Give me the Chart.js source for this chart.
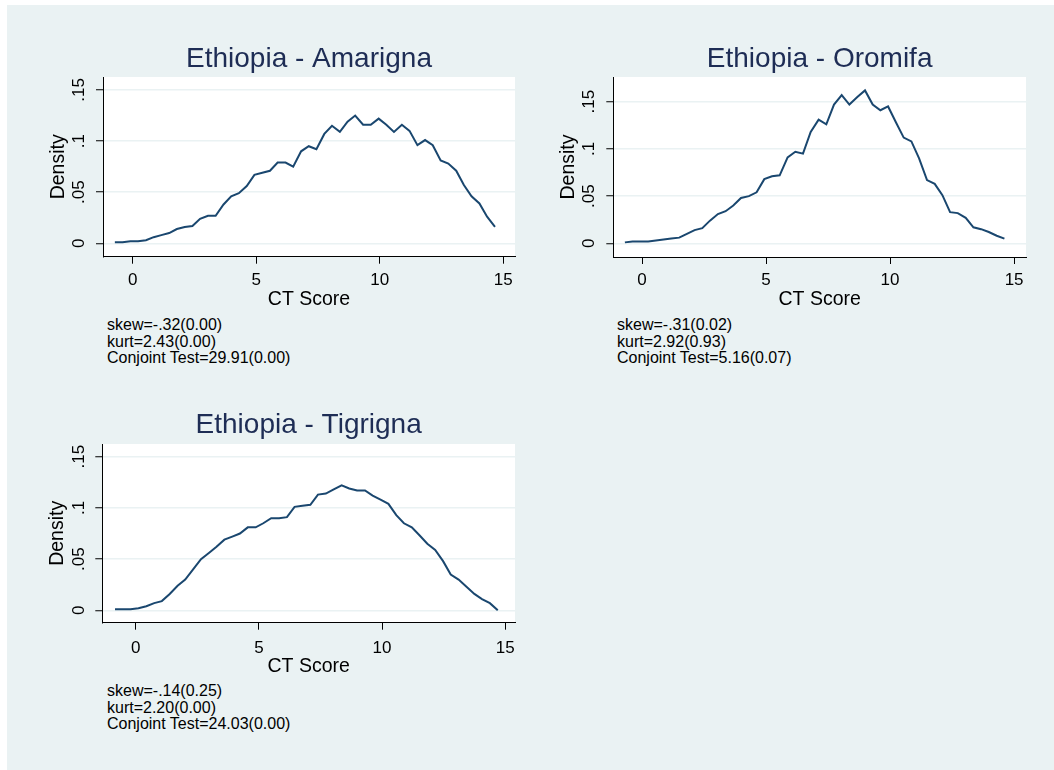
<!DOCTYPE html>
<html>
<head>
<meta charset="utf-8">
<script src="https://cdn.jsdelivr.net/npm/chart.js@4.4.1/dist/chart.umd.min.js"></script>
<style>
  html, body { margin: 0; padding: 0; background: #fff; }
  body { width: 1054px; height: 770px; position: relative; overflow: hidden; font-family: "Liberation Sans", Arial, sans-serif; }
  #bg { position: absolute; left: 7px; top: 5px; right: 0; bottom: 0; background: #eaf2f3; }
  canvas { position: absolute; }
  .note { position: absolute; font-size: 16px; line-height: 16.7px; color: #000; white-space: pre; }
</style>
</head>
<body>
<div id="bg"></div>
<canvas id="amarigna" width="485" height="281" style="left:40px;top:30px"></canvas>
<canvas id="oromifa" width="490" height="281" style="left:550px;top:30px"></canvas>
<canvas id="tigrigna" width="485" height="282" style="left:40px;top:396px"></canvas>
<div class="note" id="noteAmarigna" style="left:107px;top:317px"></div>
<div class="note" id="noteOromifa" style="left:617px;top:317px"></div>
<div class="note" id="noteTigrigna" style="left:107px;top:683px"></div>
<script>
var FONT = '"Liberation Sans", Arial, sans-serif';

/* truc va nhan */
var xTicks = [0, 5, 10, 15];
var yTicks = [0, 0.05, 0.1, 0.15];
var yTickLabels = ["0", ".05", ".1", ".15"];
var xTitle = "CT Score";
var yTitle = "Density";

/* Amarigna */
var scoreAmarigna = [-0.72, -0.41, -0.09, 0.22, 0.54, 0.85, 1.16, 1.48, 1.79, 2.11,
  2.42, 2.73, 3.05, 3.36, 3.68, 3.99, 4.30, 4.62, 4.93, 5.25,
  5.56, 5.87, 6.19, 6.50, 6.82, 7.13, 7.44, 7.76, 8.07, 8.39,
  8.70, 9.01, 9.33, 9.64, 9.96, 10.27, 10.58, 10.90, 11.21, 11.53,
  11.84, 12.15, 12.47, 12.78, 13.10, 13.41, 13.72, 14.04, 14.35, 14.67];
var densAmarigna = [0.001, 0.001, 0.002, 0.002, 0.003, 0.006, 0.008, 0.010, 0.014, 0.016,
  0.017, 0.024, 0.027, 0.027, 0.038, 0.046, 0.049, 0.056, 0.067, 0.069,
  0.071, 0.079, 0.079, 0.075, 0.090, 0.095, 0.092, 0.107, 0.115, 0.109,
  0.119, 0.125, 0.116, 0.116, 0.122, 0.116, 0.109, 0.116, 0.110, 0.096,
  0.101, 0.096, 0.081, 0.078, 0.071, 0.057, 0.046, 0.039, 0.026, 0.016];
var notesAmarigna = ["skew=-.32(0.00)", "kurt=2.43(0.00)", "Conjoint Test=29.91(0.00)"];

/* Oromifa */
var scoreOromifa = [-0.69, -0.38, -0.07, 0.25, 0.56, 0.87, 1.18, 1.50, 1.81, 2.12,
  2.43, 2.74, 3.06, 3.37, 3.68, 3.99, 4.31, 4.62, 4.93, 5.24,
  5.55, 5.87, 6.18, 6.49, 6.80, 7.12, 7.43, 7.74, 8.05, 8.36,
  8.68, 8.99, 9.30, 9.61, 9.92, 10.24, 10.55, 10.86, 11.17, 11.49,
  11.80, 12.11, 12.42, 12.73, 13.05, 13.36, 13.67, 13.98, 14.30, 14.61];
var densOromifa = [0.001, 0.002, 0.002, 0.002, 0.003, 0.004, 0.005, 0.006, 0.010, 0.014,
  0.016, 0.024, 0.031, 0.034, 0.040, 0.048, 0.050, 0.054, 0.068, 0.071,
  0.072, 0.091, 0.097, 0.095, 0.118, 0.131, 0.126, 0.147, 0.157, 0.147,
  0.155, 0.162, 0.147, 0.141, 0.145, 0.128, 0.112, 0.108, 0.090, 0.067,
  0.063, 0.051, 0.033, 0.032, 0.027, 0.017, 0.015, 0.012, 0.008, 0.005];
var notesOromifa = ["skew=-.31(0.02)", "kurt=2.92(0.93)", "Conjoint Test=5.16(0.07)"];

/* Tigrigna */
var scoreTigrigna = [-0.84, -0.52, -0.21, 0.11, 0.43, 0.75, 1.06, 1.38, 1.70, 2.01,
  2.33, 2.65, 2.97, 3.28, 3.60, 3.92, 4.23, 4.55, 4.87, 5.18,
  5.50, 5.82, 6.14, 6.45, 6.77, 7.09, 7.40, 7.72, 8.04, 8.36,
  8.67, 8.99, 9.31, 9.62, 9.94, 10.26, 10.58, 10.89, 11.21, 11.53,
  11.84, 12.16, 12.48, 12.79, 13.11, 13.43, 13.75, 14.06, 14.38, 14.70];
var densTigrigna = [0.001, 0.001, 0.001, 0.002, 0.004, 0.007, 0.009, 0.016, 0.024, 0.030,
  0.040, 0.050, 0.056, 0.062, 0.069, 0.072, 0.075, 0.081, 0.081, 0.085,
  0.090, 0.090, 0.091, 0.101, 0.102, 0.103, 0.113, 0.114, 0.118, 0.122,
  0.119, 0.117, 0.117, 0.112, 0.108, 0.104, 0.093, 0.085, 0.081, 0.073,
  0.065, 0.059, 0.048, 0.035, 0.030, 0.023, 0.016, 0.011, 0.007, 0.000];
var notesTigrigna = ["skew=-.14(0.25)", "kurt=2.20(0.00)", "Conjoint Test=24.03(0.00)"];

// nen trang cho vung ve
var plotBg = {
  id: "plotBg",
  beforeDraw: function (chart) {
    var a = chart.chartArea, c = chart.ctx;
    c.save();
    c.fillStyle = "#ffffff";
    c.fillRect(a.left, a.top, a.right - a.left, a.bottom - a.top);
    c.restore();
  }
};

// nhan truc y xoay doc (kieu Stata)
var yLabels = {
  id: "yLabels",
  afterDraw: function (chart, args, opts) {
    var c = chart.ctx, y = chart.scales.y;
    c.save();
    c.fillStyle = "#000";
    c.font = "17px " + FONT;
    c.textAlign = "center";
    c.textBaseline = "middle";
    yTicks.forEach(function (v, i) {
      c.save();
      c.translate(opts.x, y.getPixelForValue(v));
      c.rotate(-Math.PI / 2);
      c.fillText(yTickLabels[i], 0, 0);
      c.restore();
    });
    c.restore();
  }
};

function makePanel(id, title, xs, ys, g) {
  var pts = xs.map(function (x, i) { return { x: x, y: ys[i] }; });
  var ctx = document.getElementById(id).getContext("2d");
  return new Chart(ctx, {
    type: "line",
    data: {
      datasets: [{
        data: pts,
        borderColor: "#1a476f",
        borderWidth: 2,
        pointRadius: 0,
        tension: 0,
        fill: false
      }]
    },
    options: {
      responsive: false,
      animation: false,
      layout: { padding: { left: 0, right: g.padRight, top: 0, bottom: 0 } },
      plugins: {
        legend: { display: false },
        tooltip: { enabled: false },
        title: {
          display: true,
          fullSize: false, // can giua theo vung ve
          text: title,
          color: "#1e2d55",
          font: { family: FONT, size: 28, weight: "normal", lineHeight: 1 },
          padding: { top: g.titleTop, bottom: g.titleBottom }
        },
        yLabels: { x: g.yLabelX }
      },
      scales: {
        x: {
          type: "linear",
          min: g.xmin,
          max: g.xmax,
          afterBuildTicks: function (s) { s.ticks = xTicks.map(function (v) { return { value: v }; }); },
          afterFit: function (s) { s.height = g.xAxisH; },
          ticks: {
            color: "#000",
            font: { family: FONT, size: 17 },
            padding: g.xTickPad,
            maxRotation: 0,
            autoSkip: false,
            callback: function (v) { return String(v); }
          },
          grid: { drawOnChartArea: false, drawTicks: true, tickLength: 7, tickColor: "#000", tickWidth: 1 },
          border: { display: true, color: "#000", width: 1 },
          title: {
            display: true,
            text: xTitle,
            color: "#000",
            font: { family: FONT, size: 19.5, lineHeight: 1.2 },
            padding: { top: 0, bottom: 0 }
          }
        },
        y: {
          type: "linear",
          min: g.ymin,
          max: g.ymax,
          afterBuildTicks: function (s) { s.ticks = yTicks.map(function (v) { return { value: v }; }); },
          afterFit: function (s) { s.width = g.yAxisW; },
          ticks: { padding: 0, callback: function () { return ""; } },
          grid: { color: "#eaf2f3", lineWidth: 1.5, tickLength: 7, tickColor: "#000", tickWidth: 1 },
          border: { display: true, color: "#000", width: 1 },
          title: {
            display: true,
            text: yTitle,
            color: "#000",
            font: { family: FONT, size: 19.5, lineHeight: 1.2 },
            padding: { top: g.yTitlePad, bottom: 0 }
          }
        }
      }
    },
    plugins: [plotBg, yLabels]
  });
}

makePanel("amarigna", "Ethiopia - Amarigna", scoreAmarigna, densAmarigna, {
  padRight: 10, yAxisW: 63, xAxisH: 54.3, titleTop: 15.3, titleBottom: 3.7,
  xTickPad: 6.8, yTitlePad: 6.6, yLabelX: 39.3,
  xmin: -1.2, xmax: 15.48, ymin: -0.0131, ymax: 0.1627
});
makePanel("oromifa", "Ethiopia - Oromifa", scoreOromifa, densOromifa, {
  padRight: 14, yAxisW: 63.3, xAxisH: 54, titleTop: 15.3, titleBottom: 3.7,
  xTickPad: 6.5, yTitlePad: 6.6, yLabelX: 39.3,
  xmin: -1.157, xmax: 15.48, ymin: -0.0145, ymax: 0.1762
});
makePanel("tigrigna", "Ethiopia - Tigrigna", scoreTigrigna, densTigrigna, {
  padRight: 10, yAxisW: 62.3, xAxisH: 55.3, titleTop: 15.5, titleBottom: 4.5,
  xTickPad: 8, yTitlePad: 5.6, yLabelX: 39.3,
  xmin: -1.357, xmax: 15.40, ymin: -0.0121, ymax: 0.1624
});

// ghi chu thong ke
document.getElementById("noteAmarigna").textContent = notesAmarigna.join("\n");
document.getElementById("noteOromifa").textContent = notesOromifa.join("\n");
document.getElementById("noteTigrigna").textContent = notesTigrigna.join("\n");
</script>
</body>
</html>
